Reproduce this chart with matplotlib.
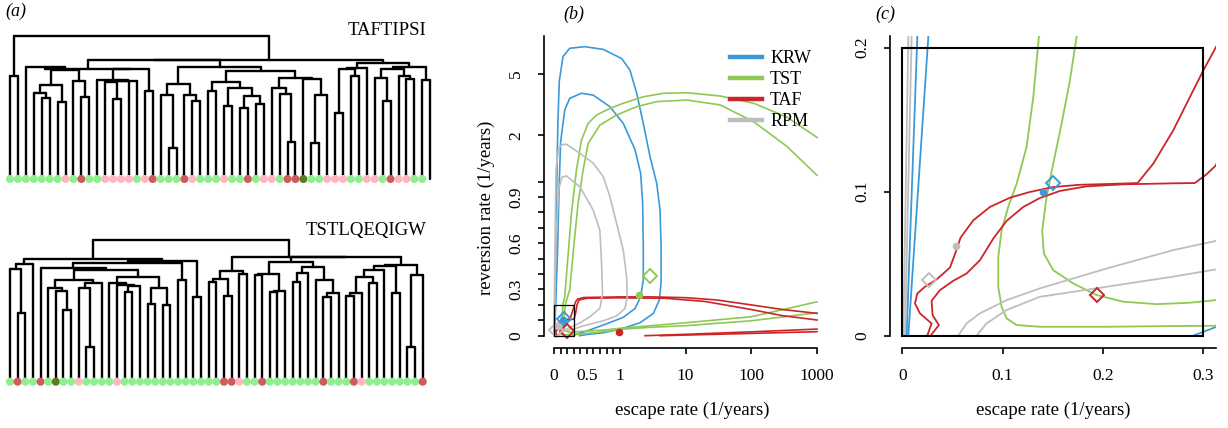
import numpy as np
import matplotlib
matplotlib.use("Agg")
import matplotlib.pyplot as plt
from matplotlib.lines import Line2D
from matplotlib.patches import Rectangle

plt.rcParams['font.family'] = ['Liberation Serif', 'DejaVu Serif']

# ---------------- data ----------------
# (a) dendrograms: internal node = [height, child, child, ...], leaf = leaf number
TAF_NAME = "TAFTIPSI"
TST_NAME = "TSTLQEQIGW"
# leaf colours left to right: g light green, p pink, r red, d dark green
TAF_LEAVES = "gggggggpgrggppppgprgggrpgggpggrgppgrrdggpppggppgrppgg"
TST_LEAVES = ("grggrgdggp" "gggg" "p" "ggggggggggggg" "rrp" "ggr"
              "ggggggg" "r" "ggg" "rp" "ggggggg" "r")

TAF_TREE = [143,
    [103.3, 1, 2],
    [119.5,
        [118.8,
            [110.5,
                [112, 3,
                    [109,
                        [94, [85.7, 4, [81.3, 5, 6]], [77.3, 7, 8]],
                        [98, 9, [82, 10, 11]]]],
                [110,
                    [99, 12, [98.3, [97.7, [97, 13, [80, 14, 15]], 16], 17]],
                    [88.3, 18, 19]]],
            [112.3,
                [94.7, [84, 20, [30.7, 21, 22]], [84, 23, [78, 24, 25]]],
                [108,
                    [97.3, [88, 26, 27],
                        [90.7, [73.3, 28, 29], [83, [71.3, 30, 31], [75, 32, 33]]]],
                    [101.3,
                        [91.3, 34, [85, 35, [37.3, 36, 37]]],
                        [99.7, 38, [84, [35.7, 39, 40], 41]]]]]],
        [115.7,
            [110.7, [110.5, [65.7, 42, 43], [103.3, 44, 45]], 46],
            [112.3,
                [109.7, [100.7, 47, [78, 48, 49]], [103.3, 50, [99.7, 51, 52]]],
                [99, 53, 54]]]]]

TST_TREE = [141.7,
    [122.4,
        [117.4, [112.7, 1, [68.4, 2, 3]], 4],
        [120.7,
            [118.4,
                [113.4, 5,
                    [111.7,
                        [101.7,
                            [93.4, 6, [90.7, 7, [71.7, 8, 9]]],
                            [98.4, [93.4, 10, [35, 11, 12]], 13]],
                        [105,
                            [98.4, 14, [97, 15, [95.5, [90, 16, 17], 18]]],
                            [94, [77.7, 19, 20], [76.7, 21, 22]]]]],
                [101.7, 23, 24]],
            [85, 25, 26]]],
    [125,
        [111, [103, [100, 27, 28], [85.7, 29, 30]], [107.7, 31, 32]],
        [124.5,
            [120,
                [107.4, [107, 33, 34], [91, [90, 35, 36], 37]],
                [115, [108.4, [99.4, 38, 39], 40],
                    [101.7, 41, [88.4, [85, 42, 43], 44]]]],
            [117,
                [116, [111.7, [105, [88.4, [86, 45, 46], 47], [98.4, 48, 49]], 50],
                    [88.4, 51, 52]],
                [106.7, [35, 53, 54], 55]]]]]

# (b)/(c) confidence contours, (escape rate, reversion rate) in 1/years
KRW_OUTER = [(0.0043, 0), (0.015, 0.208), (0.03, 0.6), (0.045, 1.2), (0.06, 2.5),
             (0.08, 4.5), (0.137, 6.5), (0.239, 7.35), (0.468, 7.53), (0.748, 7.23),
             (1.07, 6.3), (1.43, 5.3), (1.81, 3.75), (2.28, 2.39), (2.89, 1.45),
             (3.65, 0.989), (4.1, 0.816), (4.25, 0.578), (4.25, 0.34), (4.0, 0.232),
             (3.25, 0.145), (2.03, 0.084), (1.0, 0.041), (0.748, 0.019), (0.5, 0.008),
             (0.39, 0)]
KRW_INNER = [(0.006, 0), (0.026, 0.208), (0.05, 0.5), (0.08, 1.0), (0.1, 1.8),
             (0.163, 2.92), (0.239, 3.48), (0.417, 3.75), (0.595, 3.65), (0.85, 3.07),
             (1.13, 2.39), (1.71, 1.61), (2.08, 1.13), (2.23, 0.859), (2.28, 0.578),
             (2.28, 0.361), (2.08, 0.253), (1.71, 0.177), (1.13, 0.119), (0.748, 0.069),
             (0.468, 0.026), (0.3126, 0.006), (0.29, 0)]
TST_OUTER = [(1000, 1.94), (352, 2.62), (109, 3.23), (33.8, 3.6), (10.5, 3.78),
             (4.62, 3.75), (2.28, 3.56), (1.13, 3.23), (0.85, 2.99), (0.646, 2.71),
             (0.519, 2.39), (0.417, 1.86), (0.341, 1.19), (0.265, 0.794), (0.204, 0.47),
             (0.163, 0.253), (0.1362, 0.2076), (0.1306, 0.1656), (0.1239, 0.131),
             (0.114, 0.1055), (0.1056, 0.0894), (0.099, 0.0732), (0.0957, 0.0547),
             (0.0957, 0.034), (0.099, 0.0201), (0.104, 0.012), (0.114, 0.0074),
             (0.1372, 0.0062), (0.2037, 0.0062), (0.27, 0.0067), (0.3126, 0.0069),
             (0.5, 0.015), (0.8, 0.028), (1, 0.041), (3, 0.055), (10, 0.065),
             (100, 0.097), (1000, 0.149)]
TST_INNER = [(1000, 1.10), (352, 1.69), (109, 2.45), (33.8, 3.15), (10.5, 3.39),
             (3.65, 3.31), (1.81, 3.07), (0.952, 2.71), (0.697, 2.33), (0.519, 1.77),
             (0.443, 1.19), (0.366, 0.859), (0.30, 0.578), (0.239, 0.297),
             (0.1738, 0.2076), (0.1671, 0.1771), (0.1588, 0.1471), (0.1505, 0.1194),
             (0.1439, 0.0963), (0.1395, 0.0732), (0.1412, 0.057), (0.1505, 0.0455),
             (0.1704, 0.0363), (0.1937, 0.0282), (0.2203, 0.0236), (0.2535, 0.0219),
             (0.2867, 0.0229), (0.3126, 0.0247), (0.5, 0.03), (0.8, 0.038), (1, 0.048),
             (3, 0.065), (10, 0.084), (100, 0.123), (1000, 0.22)]
TAF_OUTER = [(0.0249, 0), (0.0292, 0.0085), (0.0176, 0.0155), (0.0126, 0.0224),
             (0.015, 0.0293), (0.0226, 0.034), (0.0342, 0.039), (0.0475, 0.0473),
             (0.0525, 0.0566), (0.0581, 0.0681), (0.0708, 0.0801), (0.0874, 0.0894),
             (0.1073, 0.0958), (0.1272, 0.0998), (0.1505, 0.1032), (0.177, 0.1048),
             (0.2037, 0.1053), (0.2346, 0.106), (0.2502, 0.1194), (0.2701, 0.1425),
             (0.2867, 0.1656), (0.30, 0.184), (0.3126, 0.2002), (0.33, 0.222),
             (0.36, 0.238), (0.45, 0.248), (1, 0.252), (3, 0.252), (10, 0.247),
             (30, 0.232), (100, 0.2), (300, 0.17), (1000, 0.145)]
TAF_INNER = [(0.0282, 0), (0.0365, 0.0074), (0.0302, 0.0143), (0.0292, 0.0242),
             (0.0375, 0.0316), (0.0508, 0.0381), (0.0641, 0.0432), (0.0774, 0.0524),
             (0.0907, 0.0674), (0.104, 0.0797), (0.1206, 0.0894), (0.1372, 0.0956),
             (0.1571, 0.1005), (0.1837, 0.1037), (0.2203, 0.1051), (0.2701, 0.1058),
             (0.2917, 0.106), (0.3033, 0.112), (0.3126, 0.1182), (0.33, 0.15),
             (0.35, 0.2), (0.38, 0.232), (0.5, 0.243), (1, 0.246), (5, 0.243),
             (20, 0.222), (100, 0.17), (300, 0.13), (1000, 0.102)]
TAF_LOW_A = [(2.42, 0), (10, 0.009), (100, 0.025), (1000, 0.043)]
TAF_LOW_B = [(4.1, 0), (10, 0.004), (100, 0.015), (1000, 0.026)]
RPM_OUTER = [(0.001, 0), (0.006, 0.208), (0.015, 0.6), (0.03, 1.2), (0.07, 1.65),
             (0.12, 1.74), (0.188, 1.75), (0.392, 1.53), (0.595, 1.32), (0.748, 1.08),
             (0.85, 0.903), (0.952, 0.729), (1.13, 0.556), (1.27, 0.383), (1.30, 0.253),
             (1.2, 0.177), (0.952, 0.128), (0.748, 0.097), (0.5, 0.07), (0.3126, 0.046),
             (0.27, 0.041), (0.204, 0.034), (0.137, 0.027), (0.104, 0.0178),
             (0.084, 0.0085), (0.074, 0)]
RPM_INNER = [(0.0027, 0), (0.0093, 0.208), (0.03, 0.6), (0.07, 0.95), (0.12, 1.07),
             (0.188, 1.09), (0.392, 0.968), (0.595, 0.816), (0.697, 0.686),
             (0.723, 0.47), (0.738, 0.275), (0.697, 0.177), (0.545, 0.123),
             (0.4, 0.085), (0.3126, 0.0658), (0.27, 0.0594), (0.204, 0.0467),
             (0.137, 0.0328), (0.104, 0.0247), (0.0774, 0.0155), (0.064, 0.0085),
             (0.0558, 0)]

MODELS = ["KRW", "TST", "TAF", "RPM"]
COLORS = {"KRW": "#3A9AD9", "TST": "#8DC953", "TAF": "#CC2529", "RPM": "#BEBEBE"}
CURVES = {"KRW": [KRW_OUTER, KRW_INNER],
          "TST": [TST_OUTER, TST_INNER],
          "TAF": [TAF_OUTER, TAF_INNER, TAF_LOW_A, TAF_LOW_B],
          "RPM": [RPM_OUTER, RPM_INNER]}
# point estimates (filled circle) and second estimate (open diamond)
MLE = {"KRW": (0.14, 0.1), "TST": (1.99, 0.264), "TAF": (0.99, 0.026), "RPM": (0.054, 0.0624)}
ALT = {"KRW": (0.15, 0.106), "TST": (2.89, 0.39), "TAF": (0.194, 0.028), "RPM": (0.0266, 0.0388)}
ZOOM_BOX = (0.3, 0.2)

LEAF_COLORS = {"g": "#90EE90", "p": "#FFB6C1", "r": "#CD5C5C", "d": "#587D1E"}

# ---------------- figure ----------------
W, H = 1228, 428
fig = plt.figure(figsize=(W / 100, H / 100), dpi=100)


def add_axes_px(left, top, right, bottom):
    return fig.add_axes([left / W, 1 - bottom / H, (right - left) / W, (bottom - top) / H])


def draw_tree(ax, node):
    if isinstance(node, int):
        return float(node), 0.0
    h = node[0]
    pts = [draw_tree(ax, k) for k in node[1:]]
    xs = [p[0] for p in pts]
    for x, top in pts:
        ax.plot([x, x], [top, h], color="black", lw=1.7, solid_capstyle="round")
    ax.plot([min(xs), max(xs)], [h, h], color="black", lw=1.7, solid_capstyle="round")
    return (xs[0] + xs[-1]) / 2, h


def tree_panel(tree, leaves, box, first_px, last_px, base_px):
    left, top, right, bottom = box
    ax = add_axes_px(left, top, right, bottom)
    n = len(leaves)
    step = (last_px - first_px) / (n - 1)
    draw_tree(ax, tree)
    ax.scatter(np.arange(1, n + 1), np.zeros(n), s=34,
               c=[LEAF_COLORS[c] for c in leaves], zorder=3, linewidths=0)
    ax.set_xlim(1 - (first_px - left) / step, 1 + (right - first_px) / step)
    ax.set_ylim(base_px - bottom, base_px - top)
    ax.axis("off")
    return ax


tree_panel(TAF_TREE, TAF_LEAVES, (0, 20, 440, 190), 10, 422.3, 179)
tree_panel(TST_TREE, TST_LEAVES, (0, 222, 440, 392), 10, 422.7, 381.7)
fig.text(426 / W, 1 - 35 / H, TAF_NAME, ha="right", va="baseline", fontsize=13.5)
fig.text(426 / W, 1 - 235 / H, TST_NAME, ha="right", va="baseline", fontsize=13.5)


# piecewise axis: linear up to 1, log10 above
def fwd(v):
    v = np.asarray(v, dtype=float)
    return np.where(v <= 1, v, 1 + np.log10(np.maximum(v, 1)))


def inv(u):
    u = np.asarray(u, dtype=float)
    return np.where(u <= 1, u, 10 ** (np.minimum(u, 10) - 1))


def style_axes(ax):
    for s in ["top", "right"]:
        ax.spines[s].set_visible(False)
    for s in ["left", "bottom"]:
        ax.spines[s].set_linewidth(1.2)
    ax.tick_params(direction="out", length=4, width=1.2, labelsize=12.5)
    ax.tick_params(axis="x", pad=11)
    ax.tick_params(axis="y", pad=10)
    for lab in ax.get_yticklabels():
        lab.set_rotation(90)
        lab.set_va("center")


def draw_contours(ax, lw):
    for m in MODELS:
        for curve in CURVES[m]:
            xs, ys = zip(*curve)
            ax.plot(xs, ys, color=COLORS[m], lw=lw)
    for m in MODELS:
        ax.plot(*MLE[m], "o", color=COLORS[m], ms=5.5, mec="none", zorder=4)
        ax.plot(*ALT[m], "D", mfc="none", mec=COLORS[m], ms=7, mew=1.4, zorder=4)


# ---- (b)
axb = add_axes_px(543.5, 36, 827.5, 347.5)
axb.set_xscale("function", functions=(fwd, inv))
axb.set_yscale("function", functions=(fwd, inv))
draw_contours(axb, 1.2)
axb.add_patch(Rectangle((0, 0), ZOOM_BOX[0], ZOOM_BOX[1], fill=False, ec="black", lw=0.9, zorder=5))
axb.set_xlim(-0.16, 10 ** 3.16)
axb.set_ylim(-0.0766, 10 ** 0.946)
xt = [0, 0.1, 0.2, 0.3, 0.4, 0.5, 0.6, 0.7, 0.8, 0.9, 1, 10, 100, 1000]
xl = ["0", "", "", "", "", "0.5", "", "", "", "", "1", "10", "100", "1000"]
yt = [0, 0.1, 0.2, 0.3, 0.4, 0.5, 0.6, 0.7, 0.8, 0.9, 1, 2, 5]
yl = ["0", "", "", "0.3", "", "", "0.6", "", "", "0.9", "", "2", "5"]
axb.set_xticks(xt, xl)
axb.set_yticks(yt, yl)
axb.minorticks_off()
style_axes(axb)
axb.spines["bottom"].set_bounds(0, 1000)
axb.spines["left"].set_bounds(0, 10 ** 0.946)
axb.set_xlabel("escape rate (1/years)", fontsize=13.5)
axb.set_ylabel("reversion rate (1/years)", fontsize=13.5)
axb.xaxis.set_label_coords(0.525, -0.175)
axb.yaxis.set_label_coords(-0.17, 0.45)
handles = [Line2D([], [], color=COLORS[m], lw=3.2) for m in MODELS]
axb.legend(handles, MODELS, loc="upper left", bbox_to_anchor=(0.655, 0.955),
           frameon=False, fontsize=13, handlelength=1.8, handletextpad=0.45,
           labelspacing=0.23, borderpad=0, borderaxespad=0)

# ---- (c)
axc = add_axes_px(890, 36, 1216, 347.5)
draw_contours(axc, 1.3)
axc.add_patch(Rectangle((0, 0), ZOOM_BOX[0], ZOOM_BOX[1], fill=False, ec="black", lw=1.5, zorder=5))
axc.set_xlim(-0.01226, 0.3128)
axc.set_ylim(-0.0082, 0.2081)
axc.set_xticks([0, 0.1, 0.2, 0.3], ["0", "0.1", "0.2", "0.3"])
axc.set_yticks([0, 0.1, 0.2], ["0", "0.1", "0.2"])
style_axes(axc)
axc.spines["bottom"].set_bounds(0, 0.3128)
axc.spines["left"].set_bounds(0, 0.2081)
axc.set_xlabel("escape rate (1/years)", fontsize=13.5)
axc.xaxis.set_label_coords(0.5, -0.175)

for label, x, y in [("(a)", 5, 11), ("(b)", 563, 14), ("(c)", 875, 14)]:
    fig.text(x / W, 1 - y / H, label, style="italic", fontsize=13, va="center")

fig.savefig("out.png", dpi=100)
